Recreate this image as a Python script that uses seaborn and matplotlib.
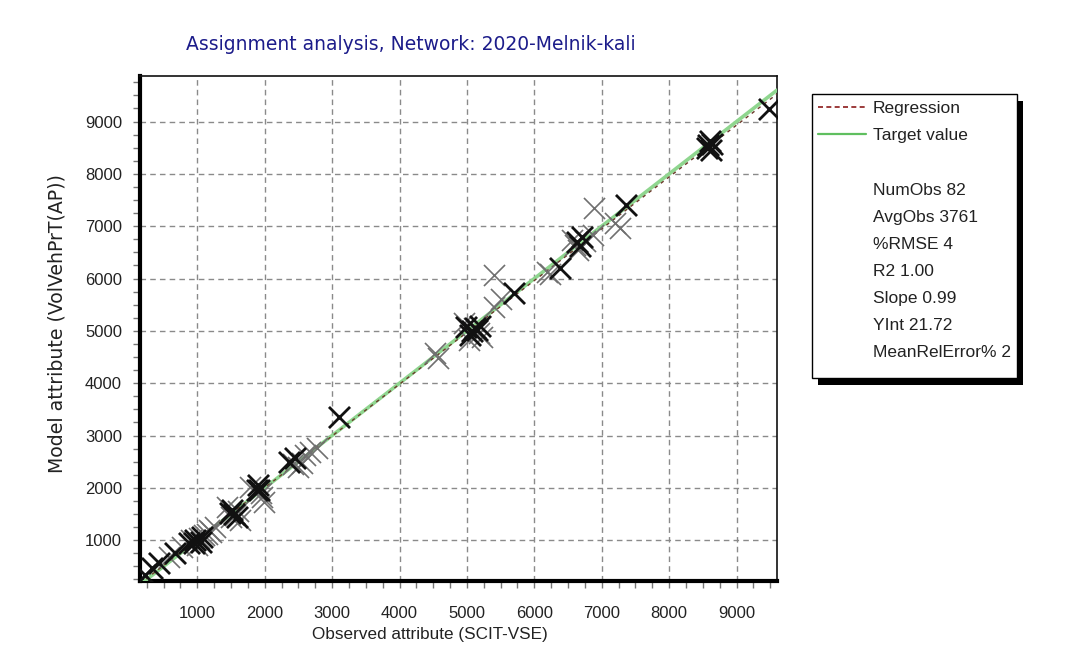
import numpy as np
import pandas as pd
import matplotlib
matplotlib.use("Agg")
import matplotlib.pyplot as plt
from matplotlib.lines import Line2D
from matplotlib.patches import Rectangle
from matplotlib.ticker import MultipleLocator
import seaborn as sns

# ---- data ----
observed = [228, 328, 426, 575, 674, 773, 871, 970, 1070, 1168, 1267,
            1000, 1050, 1100, 1200, 900,
            1441, 1515, 1589, 1638, 1550, 1500, 1600,
            1786, 1886, 1960, 1985, 1900, 1950,
            2355, 2454, 2553, 2677, 2776, 2500,
            3097,
            4531, 4576,
            4952, 5027, 5050, 5150, 5224, 5125, 5200,
            5397, 5397, 5693, 5500,
            6188, 6386, 6237,
            6560, 6633, 6653, 6875, 6700,
            6880,
            7202, 7276, 7365,
            8580, 8620, 8600,
            9487,
            5080, 5100, 5180, 4990,
            6600, 6680, 6750,
            8560, 8640,
            2420, 2600,
            950, 1020, 1150,
            1480, 1560,
            1920]
model = [333, 460, 556, 684, 748, 872, 940, 1000, 1065, 1193, 1256,
         900, 960, 1100, 1150, 1000,
         1639, 1576, 1447, 1384, 1500, 1450, 1550,
         2021, 1958, 1830, 1734, 2050, 1900,
         2499, 2564, 2468, 2690, 2755, 2400,
         3360,
         4572, 4476,
         5145, 4826, 4921, 5017, 4889, 5050, 5100,
         5463, 6069, 5719, 5600,
         6132, 6197, 6080,
         6738, 6706, 6547, 6834, 6800,
         7340,
         7057, 6968, 7407,
         8550, 8450, 8620,
         9243,
         5000, 5060, 4950, 5080,
         6650, 6620, 6720,
         8500, 8580,
         2450, 2620,
         950, 1040, 1120,
         1520, 1480,
         1950]
shade = ["d", "d", "d", "l", "d", "l", "d", "d", "d", "l", "l",
         "l", "d", "l", "l", "l",
         "l", "d", "d", "l", "d", "l", "l",
         "l", "d", "l", "l", "d", "l",
         "d", "d", "l", "l", "l", "l",
         "d",
         "l", "l",
         "l", "l", "d", "d", "l", "d", "d",
         "l", "l", "d", "l",
         "l", "d", "l",
         "l", "d", "l", "l", "d",
         "l",
         "l", "l", "d",
         "d", "d", "d",
         "d",
         "d", "l", "l", "d",
         "l", "d", "l",
         "d", "d",
         "l", "l",
         "d", "l", "l",
         "d", "l",
         "d"]

reg_slope = 0.99
reg_intercept = 21.72
x_range = [150, 9600]
y_range = [220, 9880]

stats_lines = ["NumObs 82", "AvgObs 3761", "%RMSE 4", "R2 1.00",
               "Slope 0.99", "YInt 21.72", "MeanRelError% 2"]
title = "Assignment analysis, Network: 2020-Melnik-kali"
xlabel = "Observed attribute (SCIT-VSE)"
ylabel = "Model attribute (VolVehPrT(AP))"

df = pd.DataFrame({"observed": observed, "model": model, "shade": shade})

# ---- style ----
sns.set_style("white")
plt.rcParams["font.family"] = ["Liberation Sans", "DejaVu Sans"]

W, H = 1074, 671
fig = plt.figure(figsize=(W / 100, H / 100), dpi=100)
ax = fig.add_axes([140 / W, 1 - 581 / H, 637 / W, 505.5 / H])

# lines
lx = np.array(x_range, dtype=float)
sns.lineplot(x=lx, y=lx, ax=ax, color="#8fd68f", linewidth=2.6, zorder=3)
sns.lineplot(x=lx, y=reg_slope * lx + reg_intercept, ax=ax, color="#6b3a2a",
             linewidth=1.0, linestyle=(0, (2.5, 3)), zorder=4)

# markers
light = df[df["shade"] == "l"]
dark = df[df["shade"] == "d"]
sns.scatterplot(data=light, x="observed", y="model", ax=ax, marker="x",
                s=230, color="#707070", linewidth=1.2, zorder=5, legend=False)
sns.scatterplot(data=dark, x="observed", y="model", ax=ax, marker="x",
                s=230, color="#111111", linewidth=2.0, zorder=6, legend=False)

ax.set_xlim(*x_range)
ax.set_ylim(*y_range)
ax.xaxis.set_minor_locator(MultipleLocator(250))
ax.yaxis.set_minor_locator(MultipleLocator(250))
ax.set_xticks(np.arange(1000, 9001, 1000))
ax.set_yticks(np.arange(1000, 9001, 1000))
ax.grid(True, which="major", color="#8a8a8a", linestyle=(0, (4, 3)), linewidth=1.0)
ax.set_axisbelow(True)
ax.tick_params(which="both", direction="out", length=5, width=1, color="#777777",
               bottom=True, left=True, top=False, right=False,
               labelsize=12, labelcolor="#222222")
ax.tick_params(axis="x", pad=13)
ax.tick_params(axis="y", pad=8)
ax.set_xlabel("")
ax.set_ylabel("")

for side in ["top", "right"]:
    ax.spines[side].set_linewidth(1.2)
    ax.spines[side].set_color("#111111")
for side in ["left", "bottom"]:
    ax.spines[side].set_linewidth(3.0)
    ax.spines[side].set_color("#000000")

fig.text(411 / W, 1 - 45 / H, title, ha="center", va="center",
         fontsize=13.5, color="#1c1c8a", family=["DejaVu Sans"])
fig.text(430 / W, 1 - 634 / H, xlabel, ha="center", va="center",
         fontsize=12.3, color="#222222")
fig.text(57 / W, 1 - 324 / H, ylabel, ha="center", va="center",
         rotation=90, fontsize=13.6, color="#222222", family=["DejaVu Sans"])

# legend box with drop shadow
bx0, by0, bx1, by1 = 812, 94, 1017, 378
fig.patches.append(Rectangle(((bx0 + 6) / W, 1 - (by1 + 7) / H), (bx1 - bx0) / W,
                             (by1 - by0) / H, transform=fig.transFigure,
                             facecolor="black", edgecolor="none", zorder=1))
fig.patches.append(Rectangle((bx0 / W, 1 - by1 / H), (bx1 - bx0) / W,
                             (by1 - by0) / H, transform=fig.transFigure,
                             facecolor="white", edgecolor="black", linewidth=1.0,
                             zorder=2))

handles = [Line2D([], [], color="#8b1a1a", linestyle=(0, (3, 2)), linewidth=1.2),
           Line2D([], [], color="#5fbf5f", linewidth=1.6),
           Line2D([], [], linestyle="none")]
labels = ["Regression", "Target value", " "]
for s in stats_lines:
    handles.append(Line2D([], [], linestyle="none"))
    labels.append(s)
leg = fig.legend(handles, labels, loc="upper left",
                 bbox_to_anchor=(bx0 / W, 1 - 95 / H),
                 bbox_transform=fig.transFigure, frameon=False,
                 fontsize=12.5, handlelength=2.75,
                 handletextpad=0.4, labelspacing=0.69, borderpad=0.35,
                 borderaxespad=0.0)
leg.set_zorder(5)
for t in leg.get_texts():
    t.set_color("#222222")

fig.savefig("out.png", dpi=100)
